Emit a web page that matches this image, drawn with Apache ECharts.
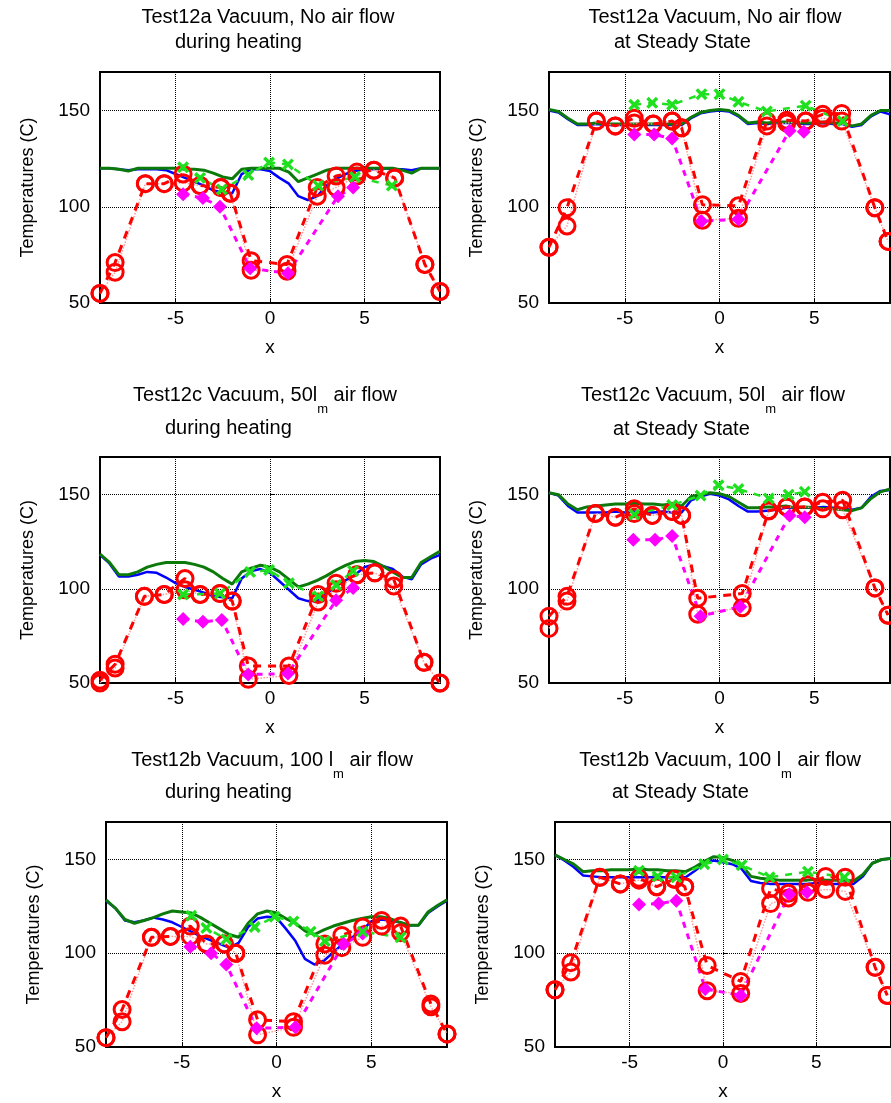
<!DOCTYPE html>
<html>
<head>
<meta charset="utf-8">
<script src="https://cdn.jsdelivr.net/npm/echarts@6/dist/echarts.min.js"></script>
<style>
  html, body { margin: 0; padding: 0; background: #fff; }
  #main { width: 891px; height: 1103px; }
</style>
</head>
<body>
<div id="main"></div>
<script>
// sample positions for the two continuous traces
const lineX = [-9, -8.5, -8, -7.5, -7, -6.5, -6, -5.5, -5, -4.5, -4, -3.5, -3, -2.5, -2, -1.5, -1, -0.5, 0,
  0.5, 1, 1.5, 2, 2.5, 3, 3.5, 4, 4.5, 5, 5.5, 6, 6.5, 7, 7.5, 8, 8.5, 9];

// Test12a during heating
const blue1 = [120, 120, 119.5, 119, 119.5, 119.5, 119.5, 119, 117, 115, 113, 111, 108.5, 107.5, 107, 117, 119.5, 119.5, 118.5,
  115, 112, 105.5, 103.5, 105.5, 111, 114.5, 117, 118.5, 119.5, 119.5, 120, 119.5, 119.5, 119, 120, 120, 120];
const green1 = [120, 120, 119.5, 118.5, 120, 120, 120, 120, 120, 119.5, 119.5, 119, 117.5, 115.5, 114.5, 119.5, 120, 120, 120,
  120, 118, 113, 115, 117, 119, 120, 120, 120, 120, 120, 120, 120, 119, 117.5, 120, 120, 120];
const redX1 = [-9.0, -8.2, -6.6, -5.6, -4.6, -3.7, -2.6, -2.1, -1.0, 0.9, 2.5, 3.5, 4.6, 5.5, 6.6, 8.2, 9.0];
const redA1 = [55, 71, 112, 112, 117, 111, 110, 107, 72, 70, 110, 116, 118, 119, 115, 70, 56];
const redB1 = [55, 66, 112, 112, 112.5, 111, 110, 107, 67, 66.5, 105.5, 110, 116, 119, 115, 70, 56];
const magX1 = [-4.6, -3.55, -2.65, -1.05, 0.95, 3.6, 4.4];
const magY1 = [106.5, 104.5, 100, 68, 65.5, 105.5, 110];
const crossX1 = [-4.6, -3.7, -2.55, -1.15, -0.05, 0.95, 2.55, 4.5, 6.45];
const crossY1 = [120.5, 115, 109, 116.5, 123, 122, 111, 115.5, 111];

// Test12a steady state
const blue2 = [150, 149, 145.5, 142.5, 142.5, 143, 142.5, 142.5, 142.5, 142.5, 142.5, 142.5, 142.5, 142.5, 142.5, 146, 148.5, 149.5, 150,
  149.5, 147, 143, 143.5, 143, 143.5, 143.5, 143.5, 143, 143, 143.5, 143, 143, 141.5, 142.5, 147, 149.5, 148];
const green2 = [150.5, 149.5, 146, 143, 143, 143.5, 143, 143, 143, 143, 143, 143, 143, 143, 143, 146.5, 149, 150, 150.5,
  150, 147.5, 143.5, 144, 143.5, 144, 144, 144, 143.5, 143.5, 144, 143.5, 143.5, 142, 143, 147.5, 150, 150];
const redX2 = [-9.0, -8.05, -6.5, -5.5, -4.5, -3.5, -2.5, -2.0, -0.9, 1.0, 2.5, 3.55, 4.55, 5.45, 6.45, 8.2, 8.9];
const redA2 = [79, 99.5, 144.5, 142, 146, 143, 144.5, 141, 101, 100.5, 144.5, 145, 144.5, 148, 148.5, 99.5, 82];
const redB2 = [79, 90, 144.5, 142, 143.5, 143, 144.5, 141, 93, 94, 142, 143.5, 144.5, 146, 144.5, 99.5, 82];
const magX2 = [-4.5, -3.45, -2.5, -0.95, 1.0, 3.7, 4.45];
const magY2 = [137.5, 137.5, 135.5, 92.5, 93.5, 139.5, 139];
const crossX2 = [-4.5, -3.55, -2.5, -0.95, 0.0, 1.0, 2.5, 4.55, 6.5];
const crossY2 = [153, 154, 153, 158.5, 158.5, 154.5, 149.5, 152.5, 144.5];

// Test12c during heating
const blue3 = [118, 113.5, 106.5, 106.5, 107.5, 109, 108.5, 106, 103, 101, 99.5, 98, 96, 95.5, 95, 105.5, 109.5, 110.5, 108.5,
  104, 99.5, 95, 93.5, 93.5, 97.5, 101.5, 104.5, 107.5, 111.5, 113, 112, 110.5, 106.5, 105, 113, 116, 118];
const green3 = [118.5, 114, 107.5, 107.5, 109, 111.5, 113, 114, 114, 114, 113, 111.5, 109, 105.5, 102.5, 109, 111, 112.5, 111.5,
  109, 105, 101, 102.5, 104.5, 107, 110, 112.5, 114.5, 115, 114.5, 112, 109, 106, 106, 114, 117, 120];
const redX3 = [-9.0, -8.2, -6.65, -5.6, -4.5, -3.7, -2.65, -2.0, -1.15, 1.0, 2.55, 3.5, 4.6, 5.55, 6.55, 8.15, 9.0];
const redA3 = [51.5, 60, 96, 97, 105.5, 97, 97.5, 93.5, 59, 59, 97, 103, 107.5, 108.5, 105, 61, 50];
const redB3 = [50, 58, 96, 97, 99.5, 97, 97.5, 93.5, 52, 54, 93, 99.5, 107.5, 108.5, 101.5, 61, 50];
const magX3 = [-4.6, -3.55, -2.55, -1.15, 0.95, 3.5, 4.4];
const magY3 = [84, 82.5, 83.5, 54.5, 55, 94, 100.5];
const crossX3 = [-4.6, -2.65, -1.05, -0.05, 1.0, 2.55, 3.5, 4.4];
const crossY3 = [97, 97.5, 109, 110, 103, 96, 102, 109.5];

// Test12c steady state
const blue4 = [151, 149.5, 144, 140.5, 140.5, 140.5, 140.5, 141, 140.5, 141, 140.5, 140.5, 141, 140.5, 140.5, 147, 149, 150.5, 149.5,
  147.5, 144, 141, 141, 141.5, 142, 143, 143, 143, 143, 143.5, 143, 142.5, 142, 143, 149, 152, 152.5];
const green4 = [151, 150, 145, 142, 143.5, 144, 144.5, 145, 145, 145.5, 145, 145, 144.5, 145, 144, 149, 150, 151, 150.5,
  149, 146, 143, 143, 143.5, 143.5, 144, 143, 143.5, 143, 142.5, 142.5, 142, 141.5, 143, 148, 151.5, 153];
const redX4 = [-9.0, -8.05, -6.55, -5.5, -4.5, -3.55, -2.5, -2.0, -1.15, 1.2, 2.6, 3.55, 4.5, 5.45, 6.5, 8.2, 8.9];
const redA4 = [85.5, 96, 140, 138, 142.5, 139, 141, 139, 95, 97.5, 141.5, 143.5, 143.5, 146, 147, 100.5, 86];
const redB4 = [79, 93.5, 140, 138, 140, 139, 141, 139, 86.5, 90, 141.5, 143.5, 143.5, 142.5, 142, 100.5, 86];
const magX4 = [-4.55, -3.4, -2.5, -1.0, 1.1, 3.7, 4.5];
const magY4 = [126, 126, 128, 85.5, 90.5, 139, 138];
const crossX4 = [-4.5, -2.5, -1.0, -0.05, 1.0, 2.6, 3.65, 4.5];
const crossY4 = [139.5, 144.5, 149.5, 155, 153, 148, 150, 151.5];

// Test12b during heating
const blue5 = [128, 124, 117.5, 116.5, 117.5, 119, 118, 116.5, 114, 111.5, 109, 107, 105, 103, 105.5, 114, 118.5, 119.5, 119,
  113, 106.5, 97, 94, 96, 100.5, 105, 108.5, 112, 117, 118, 117.5, 116.5, 115, 115, 121.5, 125, 128];
const green5 = [128.5, 124, 118, 116, 117.5, 119, 121, 122.5, 122, 121.5, 119, 116, 113, 110, 108.5, 116, 121, 122.5, 121.5,
  118.5, 116, 112, 110, 112.5, 114.5, 116, 117.5, 118.5, 119.5, 119.5, 118.5, 116.5, 115, 115, 122, 125.5, 128.5];
const redX5 = [-9.0, -8.15, -6.6, -5.6, -4.55, -3.7, -2.75, -2.15, -1.0, 0.9, 2.55, 3.45, 4.55, 5.55, 6.55, 8.15, 9.0];
const redA5 = [55, 70, 108.5, 109, 114.5, 105, 105, 100, 64.5, 63.5, 105, 109.5, 114, 117.5, 114.5, 73, 57];
const redB5 = [55, 63.5, 108.5, 109, 109, 105, 105, 100, 56.5, 60.5, 99, 103, 108.5, 114.5, 111, 71.5, 57];
const magX5 = [-4.55, -3.45, -2.65, -1.05, 1.0, 3.55, 4.55];
const magY5 = [103.5, 100, 94, 60, 60.5, 105, 110.5];
const crossX5 = [-4.5, -3.7, -2.65, -1.15, -0.1, 0.9, 1.8, 2.55, 4.55, 6.55];
const crossY5 = [120, 113.5, 107.5, 114, 119.5, 117, 111.5, 106.5, 111.5, 108.5];

// Test12b steady state
const blue6 = [152.5, 149.5, 146, 141.5, 141, 140.5, 140.5, 140.5, 140.5, 140.5, 140.5, 140.5, 140.5, 140.5, 140.5, 144, 148, 149.5, 148.5,
  147.5, 145, 138.5, 137.5, 137, 137, 137, 137, 137, 137.5, 137, 137, 137, 137, 141, 148, 150, 150.5];
const green6 = [152.5, 150, 147.5, 143.5, 144, 144, 144.5, 144.5, 144.5, 145, 144.5, 144.5, 144, 144, 143.5, 146, 149, 151.5, 151,
  149.5, 147, 141, 140, 139.5, 139, 139, 139, 139, 139.5, 139, 139, 139, 138.5, 142, 148, 150, 150.5];
const redX6 = [-9.0, -8.15, -6.6, -5.5, -4.5, -3.55, -2.6, -2.05, -0.85, 0.95, 2.55, 3.5, 4.55, 5.5, 6.55, 8.15, 8.8];
const redA6 = [80.5, 95, 140.5, 137, 140, 135.5, 139.5, 135.5, 93.5, 85, 134.5, 132, 136.5, 141, 140.5, 92.5, 77.5];
const redB6 = [80.5, 90, 140.5, 137, 139, 135.5, 139.5, 135.5, 80, 78.5, 126.5, 129.5, 132.5, 134, 133, 92.5, 77.5];
const magX6 = [-4.5, -3.45, -2.5, -0.95, 0.95, 3.55, 4.5];
const magY6 = [126, 126.5, 128, 81, 77.5, 131.5, 132.5];
const crossX6 = [-4.5, -3.5, -2.5, -1.0, 0.0, 1.0, 2.5, 4.55, 6.5];
const crossY6 = [144, 141, 140.5, 147.5, 150, 147, 140.5, 143.5, 140.5];

const titles1 = ['Test12a Vacuum, No air flow', 'Test12a Vacuum, No air flow',
  'Test12c Vacuum, 50l{s|m}{a| air flow}', 'Test12c Vacuum, 50l{s|m}{a| air flow}',
  'Test12b Vacuum, 100 l{s|m}{a| air flow}', 'Test12b Vacuum, 100 l{s|m}{a| air flow}'];
const titles2 = ['during heating', 'at Steady State', 'during heating', 'at Steady State', 'during heating', 'at Steady State'];

const panels = [
  {blue: blue1, green: green1, rx: redX1, ra: redA1, rb: redB1, mx: magX1, my: magY1, cx: crossX1, cy: crossY1},
  {blue: blue2, green: green2, rx: redX2, ra: redA2, rb: redB2, mx: magX2, my: magY2, cx: crossX2, cy: crossY2},
  {blue: blue3, green: green3, rx: redX3, ra: redA3, rb: redB3, mx: magX3, my: magY3, cx: crossX3, cy: crossY3},
  {blue: blue4, green: green4, rx: redX4, ra: redA4, rb: redB4, mx: magX4, my: magY4, cx: crossX4, cy: crossY4},
  {blue: blue5, green: green5, rx: redX5, ra: redA5, rb: redB5, mx: magX5, my: magY5, cx: crossX5, cy: crossY5},
  {blue: blue6, green: green6, rx: redX6, ra: redA6, rb: redB6, mx: magX6, my: magY6, cx: crossX6, cy: crossY6}
];

// layout of the six axes boxes (px)
const boxes = [
  {left: 100, top: 72, width: 340, height: 231},
  {left: 549, top: 72, width: 341, height: 231},
  {left: 100, top: 457, width: 340, height: 226},
  {left: 549, top: 457, width: 341, height: 226},
  {left: 106, top: 822, width: 341, height: 225},
  {left: 555, top: 822, width: 341, height: 225}
];
// title placement: centre of line 1, start of line 2, top of each line
const titlePos = [
  {cx: 268, x2: 175, y1: 7, y2: 32},
  {cx: 715, x2: 614, y1: 7, y2: 32},
  {cx: 265, x2: 165, y1: 385, y2: 418},
  {cx: 713, x2: 613, y1: 385, y2: 419},
  {cx: 272, x2: 165, y1: 750, y2: 782},
  {cx: 720, x2: 612, y1: 750, y2: 782}
];

const FONT = '"Liberation Sans", Arial, Helvetica, sans-serif';
const crossPath = 'path://M2,0 L5,3 L8,0 L10,2 L7,5 L10,8 L8,10 L5,7 L2,10 L0,8 L3,5 L0,2 Z';

function zip(xs, ys) {
  return xs.map((x, i) => [x, ys[i]]);
}

const chart = echarts.init(document.getElementById('main'));

const grid = [], xAxis = [], yAxis = [], series = [], graphic = [];

boxes.forEach((b, i) => {
  grid.push({left: b.left, top: b.top, width: b.width, height: b.height,
    show: true, borderColor: '#000', borderWidth: 2, backgroundColor: 'transparent'});
  xAxis.push({
    gridIndex: i, type: 'value', min: -9, max: 9, splitNumber: 3,
    name: 'x', nameLocation: 'middle', nameGap: 35,
    nameTextStyle: {fontSize: 19, color: '#000', fontFamily: FONT},
    axisLine: {show: false},
    axisTick: {inside: true, length: 5, lineStyle: {color: '#000'}},
    axisLabel: {fontSize: 19, color: '#000', fontFamily: FONT, margin: 6, showMinLabel: false, showMaxLabel: false},
    splitLine: {show: true, lineStyle: {color: '#000', type: 'dotted', width: 1}}
  });
  yAxis.push({
    gridIndex: i, type: 'value', min: 50, max: 170, interval: 50,
    name: 'Temperatures (C)', nameLocation: 'middle', nameGap: 63, nameRotate: 90,
    nameTextStyle: {fontSize: 18, color: '#000', fontFamily: FONT},
    axisLine: {show: false},
    axisTick: {inside: true, length: 5, lineStyle: {color: '#000'}},
    axisLabel: {fontSize: 19, color: '#000', fontFamily: FONT, margin: 10, showMaxLabel: false},
    splitLine: {show: true, lineStyle: {color: '#000', type: 'dotted', width: 1}}
  });

  const p = panels[i];
  const common = {xAxisIndex: i, yAxisIndex: i, type: 'line', animation: false, silent: true};
  series.push(Object.assign({}, common, {
    data: zip(lineX, p.blue), symbol: 'none', lineStyle: {color: '#0000ff', width: 2.5}
  }));
  series.push(Object.assign({}, common, {
    data: zip(lineX, p.green), symbol: 'none', lineStyle: {color: '#0b7a0b', width: 3}
  }));
  series.push(Object.assign({}, common, {
    data: zip(p.rx, p.rb), symbol: 'circle', symbolSize: 16,
    itemStyle: {color: 'rgba(0,0,0,0)', borderColor: '#ff0000', borderWidth: 3},
    lineStyle: {color: '#ff9a9a', width: 1.5, type: 'dotted'}
  }));
  series.push(Object.assign({}, common, {
    data: zip(p.rx, p.ra), symbol: 'circle', symbolSize: 16,
    itemStyle: {color: 'rgba(0,0,0,0)', borderColor: '#ff0000', borderWidth: 3},
    lineStyle: {color: '#ff0000', width: 3, type: [8, 7]}
  }));
  series.push(Object.assign({}, common, {
    data: zip(p.mx, p.my), symbol: 'diamond', symbolSize: 14,
    itemStyle: {color: '#ff00ff'},
    lineStyle: {color: '#ff00ff', width: 3, type: [6, 6]}
  }));
  series.push(Object.assign({}, common, {
    data: zip(p.cx, p.cy), symbol: crossPath, symbolSize: 12,
    itemStyle: {color: '#1fe01f'},
    lineStyle: {color: '#1fe01f', width: 2.5, type: [7, 7]}
  }));

  const t = titlePos[i];
  graphic.push({
    type: 'text', x: t.cx, y: t.y1, silent: true,
    style: {
      text: '{a|' + titles1[i].replace('{s|', '}{s|') + (titles1[i].indexOf('{s|') >= 0 ? '' : '}'),
      align: 'center', verticalAlign: 'top',
      rich: {
        a: {fontSize: 20, fontFamily: FONT, color: '#000', verticalAlign: 'top', lineHeight: 22},
        s: {fontSize: 13, fontFamily: FONT, color: '#000', verticalAlign: 'bottom', lineHeight: 31}
      }
    }
  });
  graphic.push({
    type: 'text', x: t.x2, y: t.y2, silent: true,
    style: {text: titles2[i], fontSize: 20, fontFamily: FONT, fill: '#000', align: 'left', verticalAlign: 'top'}
  });
});

chart.setOption({
  backgroundColor: '#fff',
  animation: false,
  grid: grid,
  xAxis: xAxis,
  yAxis: yAxis,
  series: series,
  graphic: graphic
});
</script>
</body>
</html>
